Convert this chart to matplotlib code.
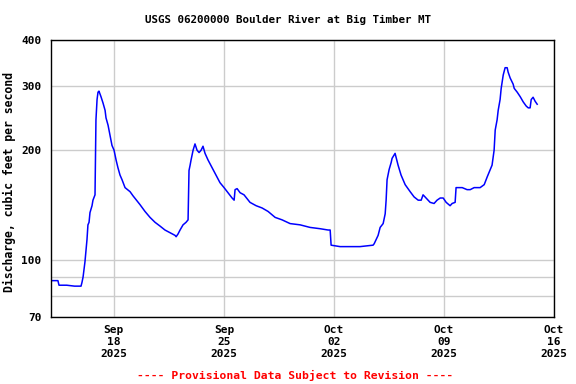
import matplotlib
matplotlib.use("Agg")
import matplotlib.pyplot as plt
import matplotlib.ticker as mticker
import numpy as np
import pandas as pd

# Days since 2025-09-14 00:00 and discharge (cfs)
t_days = [0.0, 0.44, 0.51, 1.0, 1.5, 1.91, 1.97, 2.04, 2.16, 2.23, 2.29, 2.35, 2.42, 2.48,
          2.61, 2.67, 2.80, 2.86, 2.93, 2.99, 3.05, 3.18, 3.31, 3.44, 3.50, 3.63, 3.75,
          3.88, 4.01, 4.14, 4.26, 4.39, 4.52, 4.71, 5.03, 5.22, 5.66, 5.98, 6.30, 6.62,
          6.94, 7.25, 7.57, 7.89, 7.96, 8.08, 8.21, 8.40, 8.59, 8.72, 8.78, 8.85, 8.91,
          9.04, 9.10, 9.16, 9.29, 9.42, 9.55, 9.67, 9.80, 9.99, 10.25, 10.50, 10.75,
          11.01, 11.26, 11.52, 11.65, 11.71, 11.84, 12.03, 12.28, 12.66, 13.05, 13.43,
          13.81, 14.26, 14.70, 15.21, 15.85, 16.48, 17.12, 17.63, 17.76, 17.82, 18.39,
          19.03, 19.66, 20.49, 20.56, 20.81, 20.94, 21.13, 21.26, 21.32, 21.38, 21.51,
          21.64, 21.70, 21.89, 22.08, 22.27, 22.53, 22.85, 23.10, 23.36, 23.55, 23.67,
          23.86, 24.12, 24.37, 24.56, 24.76, 24.95, 25.14, 25.39, 25.52, 25.71, 25.77,
          25.90, 26.16, 26.47, 26.67, 26.92, 27.30, 27.56, 27.75, 27.94, 28.06, 28.19,
          28.26, 28.38, 28.45, 28.57, 28.64, 28.77, 28.89, 29.02, 29.08, 29.21, 29.40,
          29.47, 29.66, 29.85, 30.04, 30.23, 30.36, 30.48, 30.55, 30.67, 30.80, 30.93]
q_cfs = [88, 88, 85.5, 85.5, 85, 85, 87, 90, 99, 107, 114, 125, 127, 135,
         141, 146, 151, 242, 275, 288, 290, 280, 269, 257, 245, 234, 220,
         206, 200, 188, 179, 171, 166, 158, 154, 150, 142, 136, 131, 127,
         124, 121, 119, 117, 116, 118, 121, 125, 127, 129, 176, 182, 188,
         200, 204, 208, 200, 197, 200, 205, 196, 188, 179, 171, 163,
         158, 153, 148, 146, 156, 157, 153, 151, 144, 141, 139,
         136, 131, 129, 126, 125, 123, 122, 121, 121, 110, 109,
         109, 109, 110, 111, 117, 123, 126, 134, 146, 166, 177,
         185, 190, 196, 182, 171, 161, 154, 149, 146, 146, 151,
         148, 144, 143, 146, 148, 148, 144, 141, 143, 144, 158,
         158, 158, 156, 156, 158, 158, 161, 169, 177, 182, 200,
         227, 242, 257, 275, 295, 321, 336, 336, 327, 315, 303,
         295, 288, 280, 271, 264, 261, 261, 275, 279, 272, 267]

start = pd.Timestamp("2025-09-14")
end = pd.Timestamp("2025-10-16")
tick_dates = ["2025-09-18", "2025-09-25", "2025-10-02", "2025-10-09", "2025-10-16"]
tick_labels = ["Sep\n18\n2025", "Sep\n25\n2025", "Oct\n02\n2025", "Oct\n09\n2025", "Oct\n16\n2025"]
y_major = [70, 100, 200, 300, 400]
y_grid = [80, 90]

times = start + pd.to_timedelta(t_days, unit="D")

fig = plt.figure(figsize=(5.76, 3.84), dpi=100)
ax = fig.add_axes([51/576, 1-317/384, (554-51)/576, (317-40)/384])

font = "DejaVu Sans Mono"
ax.plot(times, q_cfs, color="#0000ff", lw=1.1)

ax.set_yscale("log")
ax.set_ylim(70, 400)
ax.set_xlim(start, end)

ax.yaxis.set_major_locator(mticker.FixedLocator(y_major))
ax.yaxis.set_major_formatter(mticker.FixedFormatter([str(v) for v in y_major]))
ax.yaxis.set_minor_locator(mticker.FixedLocator(y_grid))
ax.yaxis.set_minor_formatter(mticker.NullFormatter())

ax.set_xticks(pd.to_datetime(tick_dates))
ax.set_xticklabels(tick_labels, fontfamily=font, fontweight="bold", fontsize=8.0, linespacing=1.2)
for lab in ax.get_yticklabels():
    lab.set_fontfamily(font)
    lab.set_fontweight("bold")
    lab.set_fontsize(8.0)

ax.grid(True, which="both", color="#cccccc", lw=1.0)
ax.set_axisbelow(True)
ax.tick_params(which="both", length=0, pad=6)
ax.tick_params(axis="y", pad=7)
for s in ax.spines.values():
    s.set_color("black")
    s.set_linewidth(1.0)

ax.set_ylabel("Discharge, cubic feet per second", fontfamily=font, fontweight="bold",
              fontsize=8.3)
ax.yaxis.set_label_coords(-0.069, 0.489)
fig.text(0.5, 1-20/384, "USGS 06200000 Boulder River at Big Timber MT", ha="center", va="center",
         fontfamily=font, fontweight="bold", fontsize=7.8)
fig.text(295/576, 1-375/384, "---- Provisional Data Subject to Revision ----", ha="center",
         va="center", fontfamily=font, fontweight="bold", fontsize=8.2, color="#ff0000")

fig.savefig("out.png", dpi=100)
